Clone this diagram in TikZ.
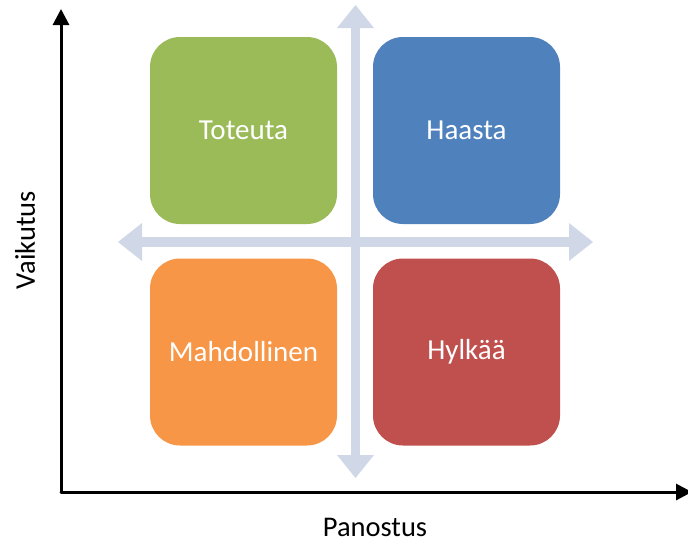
\documentclass[tikz,border=0pt]{standalone}
\usepackage{fontspec}
\setmainfont{Carlito}
\usetikzlibrary{arrows.meta}
\definecolor{qgreen}{HTML}{9BBB59}
\definecolor{qblue}{HTML}{4F81BD}
\definecolor{qorange}{HTML}{F79646}
\definecolor{qred}{HTML}{C0504D}
\definecolor{crossgray}{HTML}{D0D8E8}
\begin{document}
\begin{tikzpicture}[x=1pt,y=-1pt,
  quad/.style={rounded corners=30pt, minimum width=187pt, minimum height=187pt,
    text=white, font=\fontsize{29}{34}\selectfont, inner sep=0pt},
  axis/.style={line width=3pt, line cap=round, -{Triangle[length=16pt,width=16pt]}},
  axislabel/.style={font=\fontsize{28.5}{34}\selectfont, text=black}]
\useasboundingbox (0,0) rectangle (688,542);
\clip (0,0) rectangle (688,542);
% quadrants
\node[quad, fill=qgreen]  (toteuta) at (243.5,130.5) {Toteuta};
\node[quad, fill=qblue]   (haasta)  at (466.5,130.5) {Haasta};
\node[quad, fill=qorange] (mahd)    at (243.5,352)   {Mahdollinen};
\node[quad, fill=qred]    (hylkaa)  at (466.5,352)   {Hylkää};
% light cross with four arrowheads
\fill[crossgray] (351,28) rectangle (360,455);
\fill[crossgray] (142,237) rectangle (569,247);
\fill[crossgray] (355.5,5) -- (374,28) -- (337,28) -- cycle;
\fill[crossgray] (355.5,478) -- (374,455) -- (337,455) -- cycle;
\fill[crossgray] (118,242) -- (142,223) -- (142,261) -- cycle;
\fill[crossgray] (593,242) -- (569,223) -- (569,261) -- cycle;
% axes
\coordinate (origin) at (61,492);
\coordinate (ytop) at (61,9);
\coordinate (xend) at (692,492);
\draw[axis] (origin) -- (ytop);
\draw[axis] (origin) -- (xend);
\node[axislabel, rotate=90] (vaikutus) at (25,240) {Vaikutus};
\node[axislabel] (panostus) at (375,527) {Panostus};
\end{tikzpicture}
\end{document}
